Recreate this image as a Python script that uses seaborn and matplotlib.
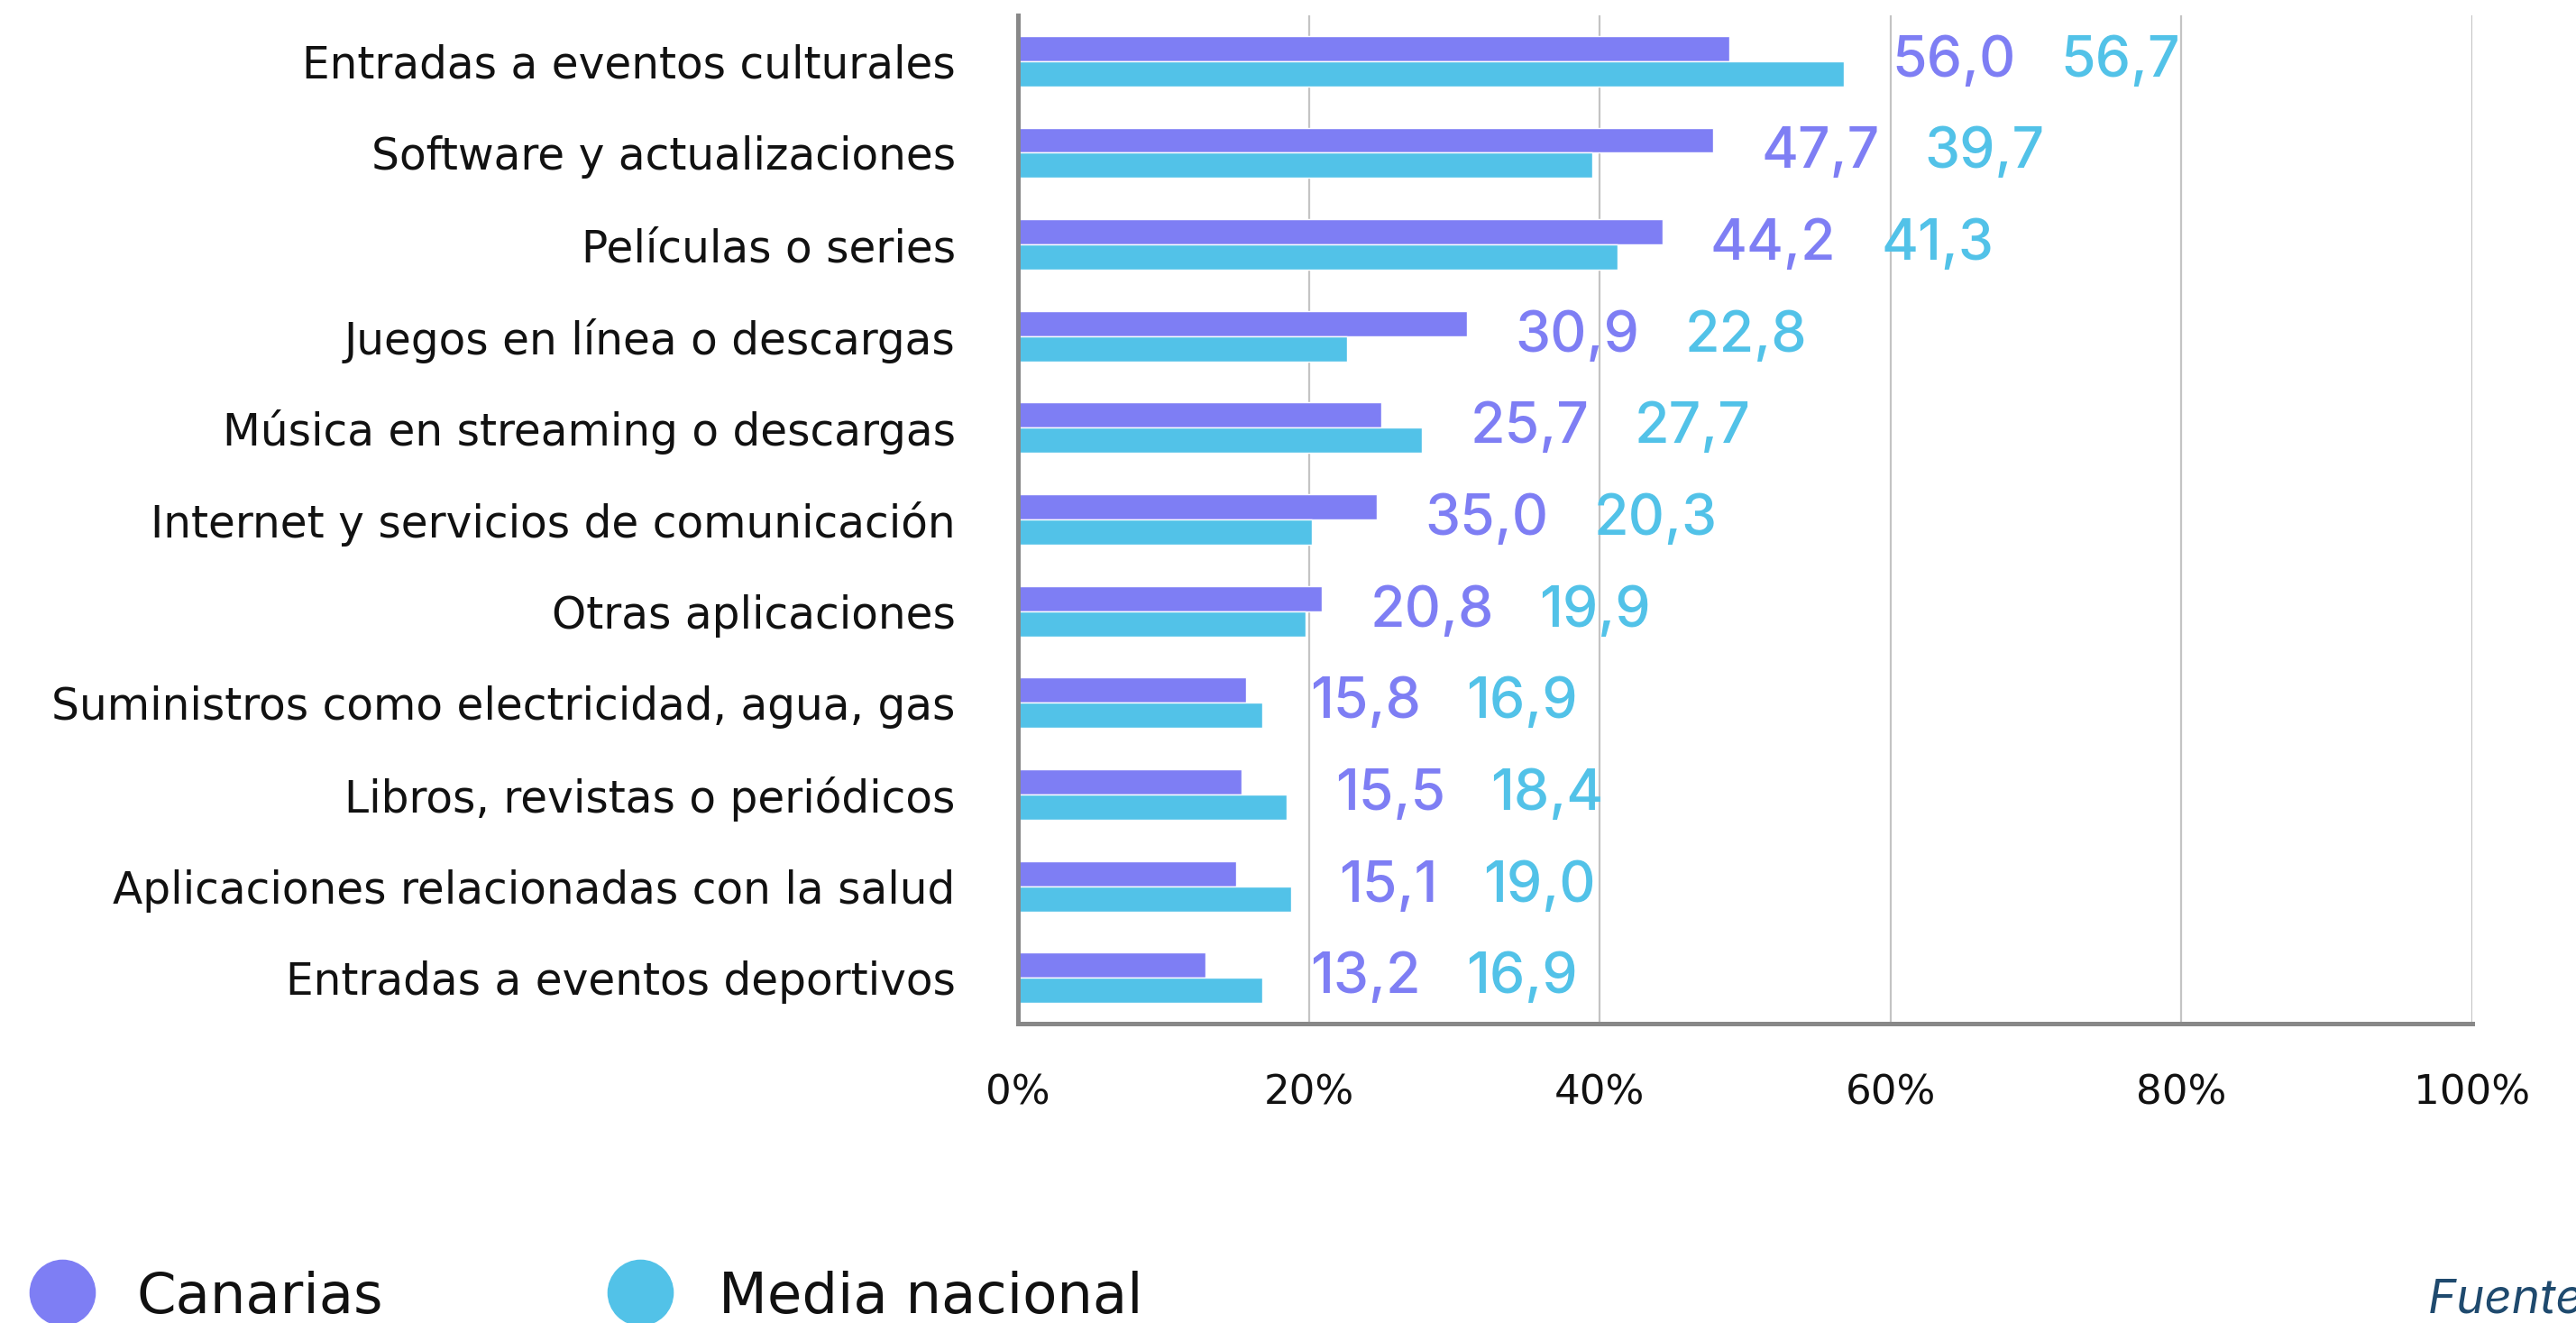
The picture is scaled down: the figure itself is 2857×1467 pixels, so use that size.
import matplotlib
matplotlib.use("Agg")
import matplotlib.pyplot as plt
import seaborn as sns
import pandas as pd
from matplotlib.lines import Line2D

# ---------------- data ----------------
categories = [
    "Entradas a eventos culturales",
    "Software y actualizaciones",
    "Películas o series",
    "Juegos en línea o descargas",
    "Música en streaming o descargas",
    "Internet y servicios de comunicación",
    "Otras aplicaciones",
    "Suministros como electricidad, agua, gas",
    "Libros, revistas o periódicos",
    "Aplicaciones relacionadas con la salud",
    "Entradas a eventos deportivos",
]
series = ["Canarias", "Media nacional"]
canarias = [48.9, 47.8, 44.3, 30.9, 25.0, 24.7, 20.9, 15.7, 15.4, 15.0, 12.9]
media = [56.8, 39.5, 41.2, 22.6, 27.8, 20.2, 19.8, 16.8, 18.5, 18.8, 16.8]
canarias_labels = ["56,0", "47,7", "44,2", "30,9", "25,7", "35,0", "20,8", "15,8", "15,5", "15,1", "13,2"]
media_labels = ["56,7", "39,7", "41,3", "22,8", "27,7", "20,3", "19,9", "16,9", "18,4", "19,0", "16,9"]
x_ticks = [0, 20, 40, 60, 80, 100]
x_ticklabels = ["0%", "20%", "40%", "60%", "80%", "100%"]
source_text = "Fuente: "

# ---------------- style ----------------
c_can = "#7E7EF4"
c_med = "#52C2E8"
sns.set_theme(style="white")
plt.rcParams["font.family"] = ["DejaVu Sans"]
value_font = ["Inter", "DejaVu Sans"]

df = pd.DataFrame({
    "categoria": categories * 2,
    "serie": [series[0]] * len(categories) + [series[1]] * len(categories),
    "valor": canarias + media,
})

fig = plt.figure(figsize=(28.57, 14.67), dpi=100)
ax = fig.add_axes([0.3952, 0.2263, 0.9597 - 0.3952, 0.9884 - 0.2263])

sns.barplot(data=df, y="categoria", x="valor", hue="serie", hue_order=series,
            order=categories, palette=[c_can, c_med], width=0.55, orient="h",
            saturation=1, edgecolor="white", linewidth=1, legend=False, ax=ax)

ax.set_xlim(0, 100)
ax.set_ylim(len(categories) - 0.5, -0.5)
ax.set_xticks(x_ticks)
ax.set_xticklabels(x_ticklabels, fontsize=32.5)
ax.set_xlabel("")
ax.set_ylabel("")
ax.tick_params(axis="x", length=0, pad=40, labelcolor="#111111")
ax.tick_params(axis="y", length=0, pad=50, labelsize=35, labelcolor="#111111")
ax.grid(axis="x", color="#c4c4c4", linewidth=1.6)
ax.grid(axis="y", visible=False)
ax.set_axisbelow(True)
for s in ["top", "right"]:
    ax.spines[s].set_visible(False)
for s in ["left", "bottom"]:
    ax.spines[s].set_color("#888888")
    ax.spines[s].set_linewidth(3.6)

# value labels
for i in range(len(categories)):
    x0 = max(canarias[i], media[i]) + 3.3
    t1 = ax.annotate(canarias_labels[i], xy=(x0, i), xytext=(0, -17),
                     textcoords="offset pixels", ha="left", va="baseline",
                     color=c_can, fontsize=45, fontweight="medium", family=value_font)
    ax.annotate(media_labels[i], xy=(1, 0), xycoords=t1, xytext=(50, 0),
                textcoords="offset pixels", ha="left", va="bottom",
                color=c_med, fontsize=45, fontweight="medium", family=value_font)

# legend
fig.add_artist(Line2D([0.02415], [0.0235], marker="o", markersize=52, color=c_can,
                      linestyle="none", transform=fig.transFigure))
fig.text(0.0532, 0.0075, series[0], fontsize=45, va="baseline", color="#111111")
fig.add_artist(Line2D([0.2485], [0.0235], marker="o", markersize=52, color=c_med,
                      linestyle="none", transform=fig.transFigure))
fig.text(0.279, 0.0075, series[1], fontsize=45, va="baseline", color="#111111")
fig.text(0.9426, 0.0075, source_text, fontsize=38, va="baseline", style="italic",
         color="#1F4A6E", family=value_font)

fig.savefig("out.png", dpi=100)
